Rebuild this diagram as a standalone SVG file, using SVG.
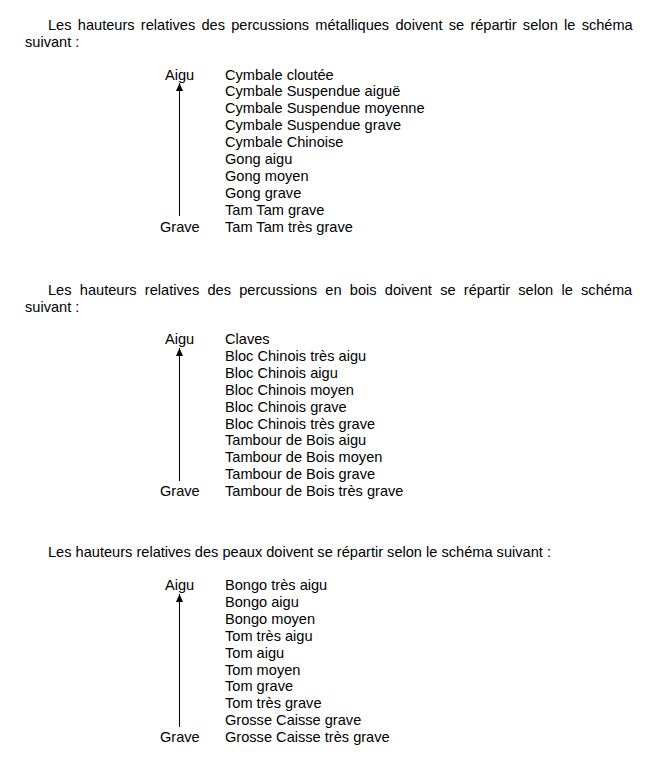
<svg xmlns="http://www.w3.org/2000/svg" width="666" height="771" viewBox="0 0 666 771">
<style>
text{font-family:"Liberation Sans",Arial,sans-serif;font-size:14.6px;fill:#000}
.ax{stroke:#000;stroke-width:1;fill:none}
</style>
<defs>
<marker id="ah" markerWidth="9" markerHeight="9" refX="0" refY="0" orient="auto" markerUnits="userSpaceOnUse" viewBox="-9 -4.5 9 9">
<path d="M0,0 L-8,-3.5 L-8,3.5 Z" fill="#000"/>
</marker>
</defs>
<rect width="666" height="771" fill="#fff"/>
<g id="para1">
<text x="48" y="29.5" word-spacing="2.2">Les hauteurs relatives des percussions métalliques doivent se répartir selon le schéma</text>
<text x="25" y="46.5">suivant :</text>
</g>
<g id="list1">
<text x="165" y="79.5">Aigu</text>
<text x="160" y="231.5">Grave</text>
<text x="225" y="79.5">Cymbale cloutée</text>
<text x="225" y="96.4">Cymbale Suspendue aiguë</text>
<text x="225" y="113.3">Cymbale Suspendue moyenne</text>
<text x="225" y="130.2">Cymbale Suspendue grave</text>
<text x="225" y="147.1">Cymbale Chinoise</text>
<text x="225" y="164">Gong aigu</text>
<text x="225" y="180.9">Gong moyen</text>
<text x="225" y="197.8">Gong grave</text>
<text x="225" y="214.7">Tam Tam grave</text>
<text x="225" y="231.6">Tam Tam très grave</text>
</g>
<g id="para2">
<text x="48" y="295" word-spacing="4.2">Les hauteurs relatives des percussions en bois doivent se répartir selon le schéma</text>
<text x="25" y="312">suivant :</text>
</g>
<g id="list2">
<text x="165" y="344">Aigu</text>
<text x="160" y="496">Grave</text>
<text x="225" y="344">Claves</text>
<text x="225" y="360.9">Bloc Chinois très aigu</text>
<text x="225" y="377.8">Bloc Chinois aigu</text>
<text x="225" y="394.7">Bloc Chinois moyen</text>
<text x="225" y="411.6">Bloc Chinois grave</text>
<text x="225" y="428.5">Bloc Chinois très grave</text>
<text x="225" y="445.4">Tambour de Bois aigu</text>
<text x="225" y="462.3">Tambour de Bois moyen</text>
<text x="225" y="479.2">Tambour de Bois grave</text>
<text x="225" y="496.1">Tambour de Bois très grave</text>
</g>
<g id="para3">
<text x="48" y="557">Les hauteurs relatives des peaux doivent se répartir selon le schéma suivant :</text>
</g>
<g id="list3">
<text x="165" y="590">Aigu</text>
<text x="160" y="742">Grave</text>
<text x="225" y="590">Bongo très aigu</text>
<text x="225" y="606.9">Bongo aigu</text>
<text x="225" y="623.8">Bongo moyen</text>
<text x="225" y="640.7">Tom très aigu</text>
<text x="225" y="657.6">Tom aigu</text>
<text x="225" y="674.5">Tom moyen</text>
<text x="225" y="691.4">Tom grave</text>
<text x="225" y="708.3">Tom très grave</text>
<text x="225" y="725.2">Grosse Caisse grave</text>
<text x="225" y="742.1">Grosse Caisse très grave</text>
</g>
<g id="connectors">
<line class="ax" x1="179.5" y1="216" x2="179.5" y2="83" marker-end="url(#ah)"/>
<line class="ax" x1="179.5" y1="481" x2="179.5" y2="348" marker-end="url(#ah)"/>
<line class="ax" x1="179.5" y1="727" x2="179.5" y2="594" marker-end="url(#ah)"/>
</g>
</svg>
